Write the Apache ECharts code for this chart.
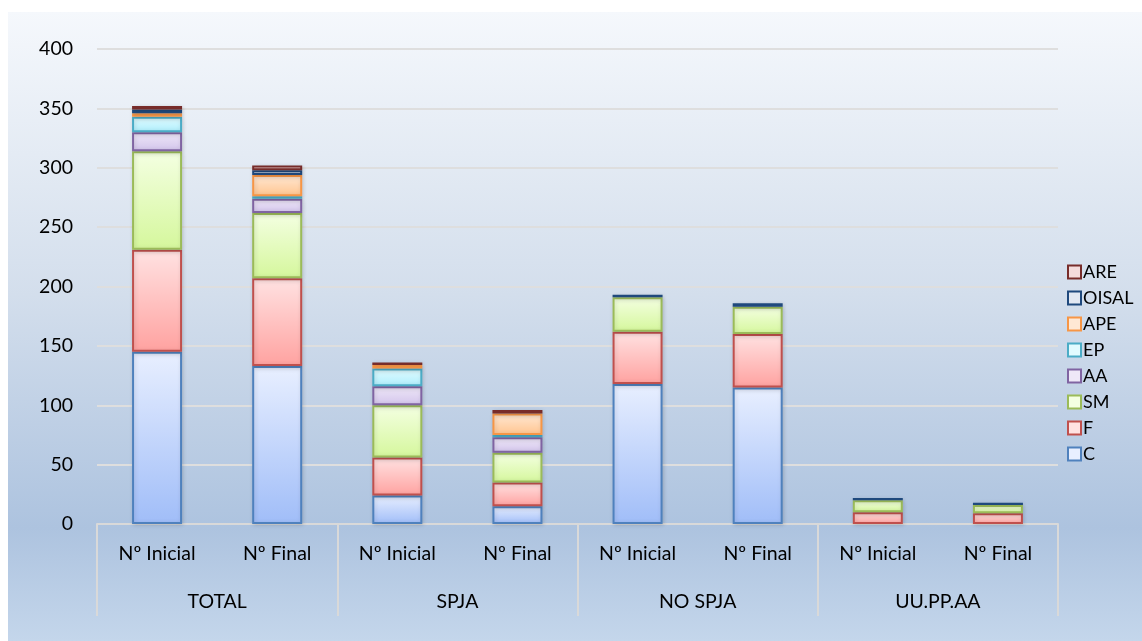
<!DOCTYPE html>
<html>
<head>
<meta charset="utf-8">
<script src="https://cdn.jsdelivr.net/npm/echarts@6/dist/echarts.min.js"></script>
<style>
html,body{margin:0;padding:0;background:#ffffff;}
#bg{position:absolute;left:8px;top:12px;width:1134px;height:629px;
background:linear-gradient(to bottom,#f5f8fc 0%,#d3deec 45%,#adc3df 82%,#c4d6eb 100%);}
#chart{position:absolute;left:0;top:0;width:1142px;height:641px;}
</style>
</head>
<body>
<div id="bg"></div>
<div id="chart"></div>
<script>
const categories = ['Nº Inicial','Nº Final','Nº Inicial','Nº Final','Nº Inicial','Nº Final','Nº Inicial','Nº Final'];
const groups = ['TOTAL','SPJA','NO SPJA','UU.PP.AA'];
const seriesNames = ['C','F','SM','AA','EP','APE','OISAL','ARE'];
const C     = [145, 133, 24, 15, 118, 115, 0, 0];
const F     = [86, 74, 32, 20, 44, 45, 10, 9];
const SM    = [83, 55, 44, 25, 29, 23, 10, 7];
const AA    = [16, 12, 16, 13, 0, 0, 0, 0];
const EP    = [13, 2, 15, 2, 0, 0, 0, 0];
const APE   = [3, 18, 3, 18, 0, 0, 0, 0];
const OISAL = [3, 4, 0, 0, 2, 3, 2, 2];
const ARE   = [3, 4, 2, 3, 0, 0, 0, 0];
const yTicks = {min: 0, max: 400, interval: 50};

const values = {C, F, SM, AA, EP, APE, OISAL, ARE};
const styles = {
  C:     {border:'#4f81bd', top:'#e8efff', bottom:'#a0bdf8'},
  F:     {border:'#c0504d', top:'#ffe2e2', bottom:'#ffa2a0'},
  SM:    {border:'#9bbb59', top:'#f4ffe2', bottom:'#d5f79c'},
  AA:    {border:'#8064a2', top:'#efe8f8', bottom:'#d2c4eb'},
  EP:    {border:'#4bacc6', top:'#e2fbff', bottom:'#aeeefc'},
  APE:   {border:'#f79646', top:'#ffe8d4', bottom:'#ffc48e'},
  OISAL: {border:'#1f497d', top:'#e2e8f2', bottom:'#b8c6dc'},
  ARE:   {border:'#772c2a', top:'#f4dcdc', bottom:'#e6b9b8'}
};
const font = 'Lato';
const chart = echarts.init(document.getElementById('chart'));
const series = seriesNames.map(n => ({
  name: n, type: 'bar', stack: 'all', xAxisIndex: 0, barWidth: 50,
  data: values[n].map(v => v === 0 ? '-' : v),
  itemStyle: {
    color: new echarts.graphic.LinearGradient(0,0,0,1,[{offset:0,color:styles[n].top},{offset:1,color:styles[n].bottom}]),
    borderColor: styles[n].border, borderWidth: 2,
    shadowColor: 'rgba(0,0,0,0.15)', shadowBlur: 4, shadowOffsetX: 1, shadowOffsetY: 1
  }
}));
chart.setOption({
  animation: false,
  textStyle: {fontFamily: font},
  grid: {left: 97, right: 84, top: 49, bottom: 117, containLabel: false},
  legend: {
    orient: 'vertical', left: 1062, top: 258, itemWidth: 13, itemHeight: 13, itemGap: 8,
    textStyle: {fontFamily: font, fontSize: 18, color: '#000', padding: [0,0,0,-3]},
    data: ['ARE','OISAL','APE','EP','AA','SM','F','C'].map(n => ({
      name: n, icon: 'rect',
      itemStyle: {color: styles[n].top, borderColor: styles[n].border, borderWidth: 2}
    }))
  },
  xAxis: [
    {type: 'category', data: categories, position: 'bottom',
     axisLine: {show: true, lineStyle: {color: '#d9d9d9', width: 2}},
     axisTick: {show: false},
     axisLabel: {interval: 0, margin: 20, fontSize: 19.5, color: '#000', fontFamily: font}},
    {type: 'category', data: groups, position: 'bottom', offset: 0,
     axisLine: {show: false},
     axisTick: {show: true, length: 92, interval: 0, lineStyle: {color: '#d9d9d9', width: 2}},
     axisLabel: {interval: 0, margin: 68, fontSize: 19.5, color: '#000', fontFamily: font}}
  ],
  yAxis: {
    type: 'value', min: yTicks.min, max: yTicks.max, interval: yTicks.interval,
    axisLine: {show: false}, axisTick: {show: false},
    axisLabel: {margin: 24, fontSize: 19.5, color: '#000', fontFamily: font},
    splitLine: {lineStyle: {color: '#dedede', width: 2}}
  },
  series: series
});
</script>
</body>
</html>
